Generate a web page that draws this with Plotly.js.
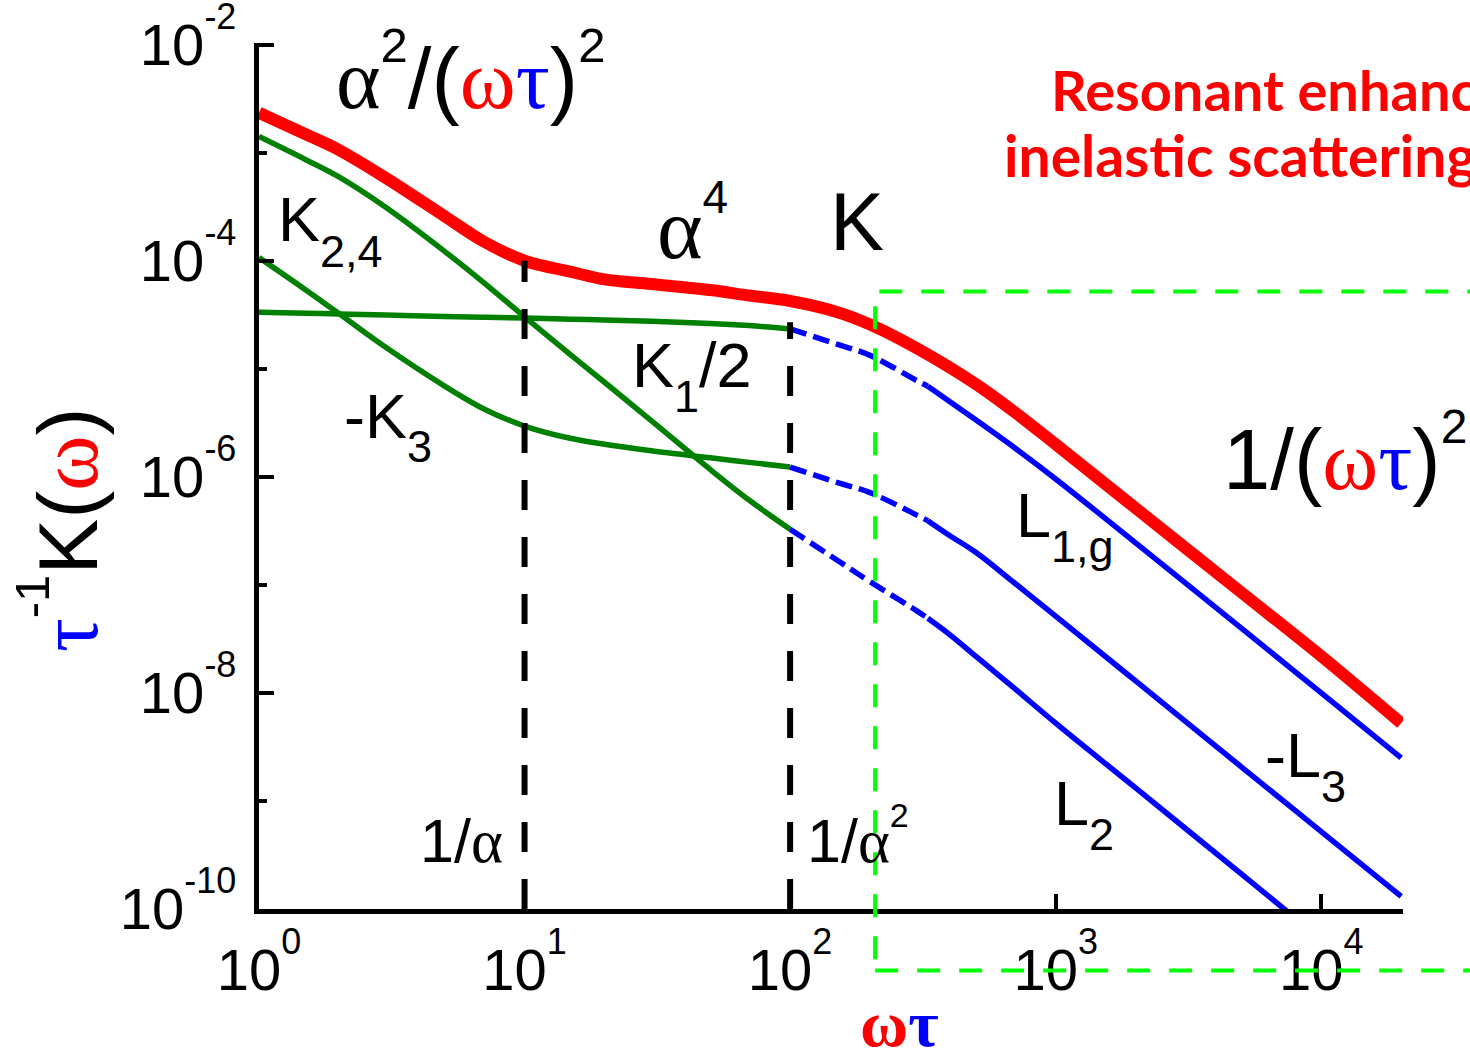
<!DOCTYPE html>
<html>
<head>
<meta charset="utf-8">
<script src="https://cdn.plot.ly/plotly-3.0.1.min.js"></script>
<style>
  html, body { margin: 0; padding: 0; background: #ffffff; }
  #chart { width: 1470px; height: 1058px; }
</style>
</head>
<body>
<div id="chart"></div>
<script>
// ωτ sample points for each group of curves
const xLow = [1, 1.5, 2, 3, 5, 7, 10, 15, 20, 30, 50, 70, 100];
const xAll = [1, 1.5, 2, 3, 5, 7, 10, 15, 20, 30, 50, 70, 100, 150, 200, 300, 500, 700, 1000, 2000, 5000, 10000, 20000];
const xMid = [100, 150, 200, 300, 330];
const xHigh = [330, 400, 500, 700, 1000, 2000, 5000, 10000, 20000];
const xHighL2 = [330, 400, 500, 700, 1000, 2000, 5000, 10000];

// total kernel  τ⁻¹K(ω)
const kTotal = [2.34e-3, 1.48e-3, 1.06e-3, 5.85e-4, 2.58e-4, 1.51e-4, 1.00e-4, 7.89e-5, 6.71e-5, 6.08e-5,
                5.35e-5, 4.76e-5, 4.24e-5, 3.36e-5, 2.57e-5, 1.55e-5, 7.24e-6, 3.98e-6, 2.00e-6, 5.13e-7,
                8.51e-8, 2.19e-8, 5.25e-9];

// low-frequency components (ωτ ≤ 1/α²)
const k24    = [1.41e-3, 8.61e-4, 5.96e-4, 3.12e-4, 1.22e-4, 6.31e-5, 3.02e-5, 1.33e-5, 7.50e-6, 3.31e-6, 1.17e-6, 6.10e-7, 3.27e-7];
const k1Half = [3.34e-5, 3.27e-5, 3.21e-5, 3.14e-5, 3.05e-5, 3.00e-5, 2.95e-5, 2.88e-5, 2.83e-5, 2.75e-5, 2.63e-5, 2.51e-5, 2.34e-5];
const negK3  = [1.07e-4, 5.37e-5, 3.24e-5, 1.58e-5, 6.92e-6, 4.27e-6, 2.95e-6, 2.26e-6, 2.00e-6, 1.74e-6, 1.50e-6, 1.36e-6, 1.23e-6];

// high-frequency components: crossover part (dashed) and asymptotic part
const l1gMid    = [2.34e-5, 1.69e-5, 1.33e-5, 7.76e-6, 6.90e-6];
const l1gHigh   = [6.90e-6, 4.95e-6, 3.37e-6, 1.86e-6, 9.55e-7, 2.45e-7, 3.98e-8, 1.00e-8, 2.51e-9];
const negL3Mid  = [1.23e-6, 8.87e-7, 7.14e-7, 4.42e-7, 3.93e-7];
const negL3High = [3.93e-7, 2.85e-7, 2.00e-7, 1.04e-7, 5.13e-8, 1.29e-8, 2.07e-9, 5.20e-10, 1.31e-10];
const l2Mid     = [3.27e-7, 1.70e-7, 1.07e-7, 5.75e-8, 4.90e-8];
const l2High    = [4.90e-8, 3.45e-8, 2.19e-8, 1.10e-8, 5.25e-9, 1.32e-9, 2.11e-10, 5.25e-11];

// characteristic frequencies 1/α and 1/α²
const markerX = [10, 100];
const markerTop = [1.0e-4, 2.7e-5];
const yFloor = 1e-10;

// resonant-enhancement region (left edge, top, bottom)
const resonantX = 209;
const resonantTop = 5.2e-5;
const resonantBottom = 2.7e-11;

// axis decades
const xExp = [0, 1, 2, 3, 4];
const yExp = [-10, -8, -6, -4, -2];
const yMinorExp = [-9, -7, -5, -3];
const X_RANGE = [0, 4.308];
const Y_RANGE = [-10, -1.985];

const SANS = 'Liberation Sans, Arial, sans-serif';
const SERIF = 'Liberation Serif, Times New Roman, serif';
const RED = '#ff0000', BLUE = '#0000ff', GREEN = '#008000', LIME = '#00ff00';

function gr(ch, color) {
  return '<span style="font-family:' + SERIF + (color ? ';color:' + color : '') + '">' + ch + '</span>';
}
function shifted(t, size, shift) {
  return '<span style="font-size:' + size + 'px;baseline-shift:' + shift + 'px">' + t + '</span>';
}
function pow10(e) { return '10' + shifted(String(e), 36, 36); }

function curve(x, y, color, width, dash, shape) {
  return {
    type: 'scatter', mode: 'lines', x: x, y: y,
    line: { color: color, width: width, dash: dash || 'solid', shape: shape || 'spline', smoothing: 1 },
    hoverinfo: 'skip', showlegend: false
  };
}

const traces = [
  curve(xLow, k24, GREEN, 5.5),
  curve(xLow, k1Half, GREEN, 5.5),
  curve(xLow, negK3, GREEN, 5.5),
  curve(xMid, l1gMid, BLUE, 5.5, '17px,7px'),
  curve(xHigh, l1gHigh, BLUE, 5.5),
  curve(xMid, negL3Mid, BLUE, 5.5, '17px,7px'),
  curve(xHigh, negL3High, BLUE, 5.5),
  curve(xMid, l2Mid, BLUE, 5.5, '17px,7px'),
  curve(xHighL2, l2High, BLUE, 5.5),
  curve(xAll, kTotal, RED, 12)
];
markerX.forEach(function (xv, i) {
  traces.push(curve([xv, xv], [yFloor, markerTop[i]], '#000000', 6, '30px,27px', 'linear'));
});

// in-plot labels, positioned in log10 axis coordinates
const labels = [
  { text: gr('α') + shifted('2', 49, 46) + '/(' + gr('ω', RED) + gr('τ', BLUE) + ')' + shifted('2', 49, 46), x: 0.795, y: -2.25, size: 85 },
  { text: 'K' + shifted('2,4', 45, -26), x: 0.27, y: -3.722, size: 63 },
  { text: gr('α') + shifted('4', 46, 45), x: 1.634, y: -3.661, size: 87 },
  { text: 'K', x: 2.252, y: -3.639, size: 81 },
  { text: 'K' + shifted('1', 45, -25) + '/2', x: 1.631, y: -5.065, size: 63 },
  { text: '-K' + shifted('3', 45, -24), x: 0.486, y: -5.537, size: 63 },
  { text: '1/(' + gr('ω', RED) + gr('τ', BLUE) + ')' + shifted('2', 48, 46), x: 4.09, y: -5.787, size: 85 },
  { text: 'L' + shifted('1,g', 45, -25), x: 3.035, y: -6.454, size: 63 },
  { text: '-L' + shifted('3', 45, -25), x: 3.939, y: -8.676, size: 63 },
  { text: 'L' + shifted('2', 45, -25), x: 3.107, y: -9.12, size: 63 },
  { text: '1/' + gr('α'), x: 0.761, y: -9.37, size: 61 },
  { text: '1/' + gr('α') + shifted('2', 34, 35), x: 2.256, y: -9.319, size: 61 }
];

const annotations = labels.map(function (l) {
  return {
    xref: 'x', yref: 'y', x: l.x, y: l.y, text: l.text, showarrow: false,
    xanchor: 'center', yanchor: 'middle',
    font: { family: SANS, size: l.size, color: '#000000' }
  };
});

// axis titles
annotations.push({
  xref: 'paper', yref: 'paper', x: 0.5603, y: -0.132, showarrow: false,
  xanchor: 'center', yanchor: 'middle',
  text: '<span style="font-weight:bold">' + gr('ω', RED) + gr('τ', BLUE) + '</span>',
  font: { family: SERIF, size: 66, color: '#000000' }
});
annotations.push({
  xref: 'paper', yref: 'paper', x: -0.174, y: 0.4387, showarrow: false,
  xanchor: 'center', yanchor: 'middle', textangle: -90,
  text: gr('τ', BLUE) + shifted('-1', 49, 48) + 'K(' + gr('ω', RED) + ')',
  font: { family: SANS, size: 84, color: '#000000' }
});

// red caption at the upper right
annotations.push({
  xref: 'paper', yref: 'paper', x: 0.6906, y: 0.9468, showarrow: false,
  xanchor: 'left', yanchor: 'middle',
  text: '<b>Resonant enhancement</b>',
  font: { family: 'Lato, Noto Sans, sans-serif', size: 56, color: RED }
});
annotations.push({
  xref: 'paper', yref: 'paper', x: 0.6495, y: 0.8704, showarrow: false,
  xanchor: 'left', yanchor: 'middle',
  text: '<b>inelastic scattering</b>',
  font: { family: 'Lato, Noto Sans, sans-serif', size: 57, color: RED }
});

function xPaper(v) { return (Math.log10(v) - X_RANGE[0]) / (X_RANGE[1] - X_RANGE[0]); }
function yPaper(v) { return (Math.log10(v) - Y_RANGE[0]) / (Y_RANGE[1] - Y_RANGE[0]); }

const shapes = [{
  type: 'rect', xref: 'paper', yref: 'paper', layer: 'above',
  x0: xPaper(resonantX), x1: 1.3, y0: yPaper(resonantBottom), y1: yPaper(resonantTop),
  line: { color: LIME, width: 4, dash: '23px,19px' },
  fillcolor: 'rgba(0,0,0,0)'
}];

const layout = {
  width: 1470, height: 1058,
  margin: { l: 259, r: 67, t: 43.4, b: 149, pad: 0 },
  paper_bgcolor: '#ffffff', plot_bgcolor: '#ffffff',
  showlegend: false,
  font: { family: SANS, color: '#000000' },
  xaxis: {
    type: 'log', range: X_RANGE, autorange: false,
    showline: true, linecolor: '#000000', linewidth: 5,
    showgrid: false, zeroline: false,
    ticks: 'inside', ticklen: 15, tickwidth: 4, tickcolor: '#000000',
    tickmode: 'array', tickvals: xExp.map(function (e) { return Math.pow(10, e); }),
    ticktext: xExp.map(pow10),
    tickfont: { family: SANS, size: 58, color: '#000000' },
    ticklabelstandoff: 6,
    ticklabeloverflow: 'allow'
  },
  yaxis: {
    type: 'log', range: Y_RANGE, autorange: false,
    showline: true, linecolor: '#000000', linewidth: 5,
    showgrid: false, zeroline: false,
    ticks: 'inside', ticklen: 15, tickwidth: 4, tickcolor: '#000000',
    tickmode: 'array', tickvals: yExp.map(function (e) { return Math.pow(10, e); }),
    ticktext: yExp.map(pow10),
    tickfont: { family: SANS, size: 58, color: '#000000' },
    ticklabelstandoff: 6,
    ticklabeloverflow: 'allow',
    minor: {
      tickmode: 'array', tickvals: yMinorExp.map(function (e) { return Math.pow(10, e); }),
      ticks: 'inside', ticklen: 8, tickwidth: 4, tickcolor: '#000000', showgrid: false
    }
  },
  annotations: annotations,
  shapes: shapes
};

Plotly.newPlot('chart', traces, layout, { staticPlot: true, displayModeBar: false });
</script>
</body>
</html>
